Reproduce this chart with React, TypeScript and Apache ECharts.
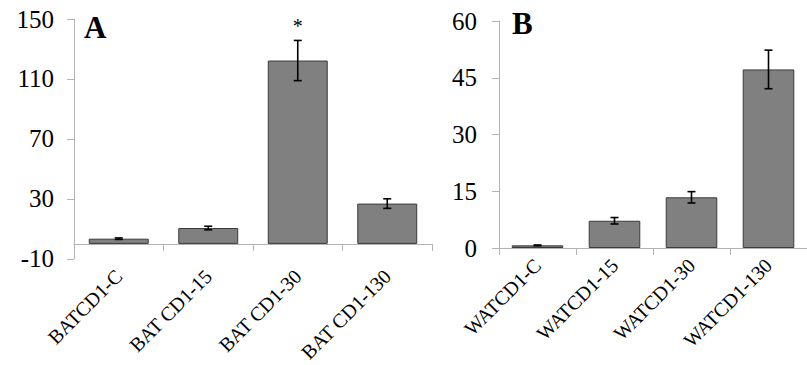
import React, { useEffect, useRef } from "react";
import * as echarts from "echarts";

const catsA = ["BATCD1-C", "BAT CD1-15", "BAT CD1-30", "BAT CD1-130"];
const valsA = [3.5, 10.6, 122.3, 26.9];
const errA = [0.5, 1.2, 13.4, 3.2];
const starsA = ["", "", "*", ""];

const catsB = ["WATCD1-C", "WATCD1-15", "WATCD1-30", "WATCD1-130"];
const valsB = [0.7, 7.2, 13.4, 47.2];
const errB = [0.1, 0.85, 1.5, 5.1];
const starsB = ["", "", "", ""];

const FONT = "'Liberation Serif', 'Times New Roman', serif";
const AXIS_COLOR = "#b3b3b3";

function errSeries(xi: number, vals: number[], errs: number[], stars: string[]) {
  return {
    type: "custom",
    xAxisIndex: xi,
    yAxisIndex: xi,
    z: 10,
    data: vals.map((v, i) => [i, v, errs[i]]),
    renderItem: (params: any, api: any) => {
      const x = api.value(0);
      const v = api.value(1);
      const e = api.value(2);
      const hi = api.coord([x, v + e]);
      const lo = api.coord([x, v - e]);
      const w = 4;
      const st = { stroke: "#000", lineWidth: 1.6 };
      const children: any[] = [
        { type: "line", shape: { x1: hi[0], y1: hi[1], x2: lo[0], y2: lo[1] }, style: st },
        { type: "line", shape: { x1: hi[0] - w, y1: hi[1], x2: hi[0] + w, y2: hi[1] }, style: st },
        { type: "line", shape: { x1: lo[0] - w, y1: lo[1], x2: lo[0] + w, y2: lo[1] }, style: st },
      ];
      const s = stars[params.dataIndex];
      if (s) {
        children.push({
          type: "text",
          x: hi[0],
          y: hi[1] - 4,
          style: { text: s, align: "center", verticalAlign: "bottom", font: `20px ${FONT}`, fill: "#000" },
        });
      }
      return { type: "group", children };
    },
  };
}

function xAxisDef(gi: number, cats: string[]) {
  return {
    type: "category",
    gridIndex: gi,
    data: cats,
    axisLine: { show: true, onZero: true, lineStyle: { color: AXIS_COLOR, width: 1 } },
    axisTick: { show: true, length: 7, lineStyle: { color: AXIS_COLOR } },
    axisLabel: { rotate: 45, margin: 14, color: "#000", fontFamily: FONT, fontSize: 20 },
    splitLine: { show: false },
  };
}

function yAxisDef(gi: number, min: number, max: number, interval: number, margin: number) {
  return {
    type: "value",
    gridIndex: gi,
    min,
    max,
    interval,
    axisLine: { show: true, lineStyle: { color: AXIS_COLOR, width: 1 } },
    axisTick: { show: true, length: 7, lineStyle: { color: AXIS_COLOR } },
    axisLabel: { margin, color: "#000", fontFamily: FONT, fontSize: 25 },
    splitLine: { show: false },
  };
}

function barSeries(xi: number, vals: number[]) {
  return {
    type: "bar",
    xAxisIndex: xi,
    yAxisIndex: xi,
    data: vals,
    barCategoryGap: "33%",
    itemStyle: { color: "#808080", borderColor: "#3a3a3a", borderWidth: 1 },
  };
}

export default function App() {
  const ref = useRef<HTMLDivElement>(null);
  useEffect(() => {
    document.body.style.margin = "0";
    if (!ref.current) return;
    const chart = echarts.init(ref.current, undefined, { renderer: "svg" });
    chart.setOption({
      animation: false,
      backgroundColor: "#fff",
      grid: [
        { left: 74, top: 19, width: 358, height: 242 },
        { left: 499, top: 21, width: 318, height: 227 },
      ],
      xAxis: [xAxisDef(0, catsA), xAxisDef(1, catsB)],
      yAxis: [yAxisDef(0, -10, 150, 40, 20), yAxisDef(1, 0, 60, 15, 22)],
      series: [
        barSeries(0, valsA),
        errSeries(0, valsA, errA, starsA),
        barSeries(1, valsB),
        errSeries(1, valsB, errB, starsB),
      ],
      graphic: [
        { type: "text", left: 84, top: 12, style: { text: "A", font: `bold 31px ${FONT}`, fill: "#000" } },
        { type: "text", left: 512, top: 8, style: { text: "B", font: `bold 31px ${FONT}`, fill: "#000" } },
      ],
    });
    return () => chart.dispose();
  }, []);
  return <div ref={ref} style={{ width: 807, height: 365 }} />;
}
